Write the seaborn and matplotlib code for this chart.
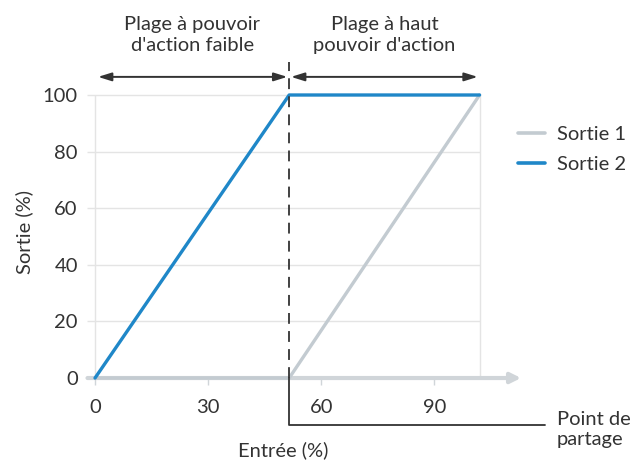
import pandas as pd
import seaborn as sns
import matplotlib.pyplot as plt

# data
entree = [0, 51.5, 102]
sortie1 = [0, 0, 100]
sortie2 = [0, 100, 100]
seriesNames = ['Sortie 1', 'Sortie 2']
seriesColors = ['#c3cbd1', '#1f87c8']
xTicks = [0, 30, 60, 90]
yTicks = [0, 20, 40, 60, 80, 100]
pointPartage = 51.5
xEnd = 102

df = pd.DataFrame({
    'Entrée': entree * 2,
    'Sortie': sortie1 + sortie2,
    'Série': [seriesNames[0]] * len(entree) + [seriesNames[1]] * len(entree),
})

sns.set_style('white')
plt.rcParams['font.family'] = ['Lato', 'DejaVu Sans']
textColor = '#333333'
gridColor = '#e4e4e4'
axisColor = '#d0d5d9'
fs = 14.5

fig = plt.figure(figsize=(6.34, 4.61), dpi=100)
ax = fig.add_axes([0.138, 0.180, 0.6957, 0.6876])

# grid and frame
ax.hlines(yTicks[1:], -2, xEnd, color=gridColor, lw=1, zorder=0)
ax.vlines([0, xEnd], 0, 100, color=gridColor, lw=1, zorder=0)

# x axis with arrow
ax.annotate('', xy=(113, 0), xytext=(-2, 0), annotation_clip=False,
            arrowprops=dict(arrowstyle='-|>,head_length=0.6,head_width=0.3',
                            color=axisColor, lw=3, shrinkA=0, shrinkB=0), zorder=1)

sns.lineplot(data=df, x='Entrée', y='Sortie', hue='Série', palette=seriesColors,
             linewidth=2.4, ax=ax, legend=False, zorder=3, clip_on=False)
ax.get_lines()[-1].set_zorder(4)

ax.set_xlim(-2, 115)
ax.set_ylim(0, 112)
for s in ax.spines.values():
    s.set_visible(False)

ax.set_xticks(xTicks)
ax.set_yticks(yTicks)
ax.tick_params(axis='x', length=5, width=1, color=axisColor, direction='out',
               pad=10, labelsize=fs, labelcolor=textColor, bottom=True)
ax.tick_params(axis='y', length=0, pad=7, labelsize=fs, labelcolor=textColor)

ax.set_xlabel('Entrée (%)', fontsize=fs, color=textColor)
ax.xaxis.set_label_coords(0.443, -0.2)
ax.set_ylabel('Sortie (%)', fontsize=fs, color=textColor)
ax.yaxis.set_label_coords(-0.124, 0.46)

# point de partage
ax.plot([pointPartage, pointPartage], [0, 111.7], color=textColor, lw=1.3,
        ls=(0, (6, 4)), clip_on=False, zorder=5)
ax.plot([pointPartage, pointPartage, 119.4], [0, -16.6, -16.6], color=textColor,
        lw=1.3, clip_on=False, zorder=5)
ax.text(122.5, -18.2, 'Point de\npartage', fontsize=fs, color=textColor,
        ha='left', va='center', linespacing=1.2, clip_on=False)

# plages
arrowProps = dict(arrowstyle='<|-|>,head_length=0.8,head_width=0.25',
                  color=textColor, lw=1.4, shrinkA=0, shrinkB=0)
ax.annotate('', xy=(0.8, 106.4), xytext=(pointPartage - 0.5, 106.4),
            arrowprops=arrowProps, annotation_clip=False)
ax.annotate('', xy=(pointPartage + 0.5, 106.4), xytext=(xEnd - 0.5, 106.4),
            arrowprops=arrowProps, annotation_clip=False)
ax.text(pointPartage / 2, 121.2, "Plage à pouvoir\nd'action faible", fontsize=fs,
        color=textColor, ha='center', va='center', linespacing=1.25)
ax.text((pointPartage + xEnd) / 2, 121.2, "Plage à haut\npouvoir d'action", fontsize=fs,
        color=textColor, ha='center', va='center', linespacing=1.25)

handles = [plt.Line2D([], [], color=c, lw=2.6) for c in seriesColors]
ax.legend(handles, seriesNames, loc='center left', bbox_to_anchor=(0.976, 0.722),
          frameon=False, fontsize=fs, borderpad=0, borderaxespad=0,
          handlelength=1.35, handletextpad=0.6, labelspacing=0.65,
          labelcolor=textColor)

plt.savefig('out.png', dpi=100)
